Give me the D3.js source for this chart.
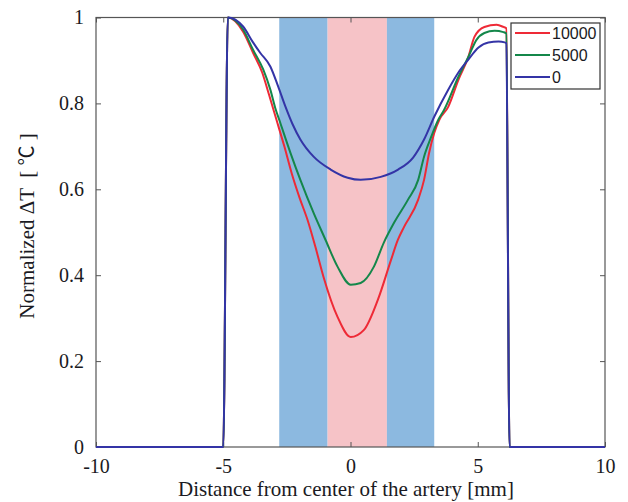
<!DOCTYPE html>
<html><head><meta charset="utf-8">
<script src="https://cdn.jsdelivr.net/npm/d3@7/dist/d3.min.js"></script>
<style>body{margin:0;background:#fff}svg{display:block}</style>
</head><body><svg id="c" width="628" height="502"></svg>
<script>
const xTicks = [-10, -5, 0, 5, 10];
const xTickLabels = ["-10", "-5", "0", "5", "10"];
const yTicks = [0, 0.2, 0.4, 0.6, 0.8, 1];
const yTickLabels = ["0", "0.2", "0.4", "0.6", "0.8", "1"];
const seriesNames = ["10000", "5000", "0"];
const seriesColors = ["#ee2a36", "#14874a", "#3434a6"];
const bandStart = [-2.8, -0.9, 1.43];
const bandEnd = [-0.9, 1.43, 3.29];
const bandColors = ["#8cb9e0", "#f6c3c7", "#8cb9e0"];

const xRed = [-10, -5.0, -4.82, -4.22, -3.83, -3.47, -3.2, -2.9, -2.6, -2.3, -2.0, -1.69, -1.38, -1.06, -0.51, 0.01, 0.52, 1.07, 1.59, 1.86, 2.10, 2.66, 2.89, 3.09, 3.29, 3.49, 3.84, 4.24, 4.63, 4.87, 5.26, 5.74, 6.01, 6.12, 6.25, 10];
const yRed = [0, 0, 1.0, 0.967, 0.918, 0.872, 0.82, 0.76, 0.70, 0.635, 0.58, 0.529, 0.466, 0.396, 0.303, 0.256, 0.272, 0.342, 0.435, 0.482, 0.512, 0.576, 0.622, 0.685, 0.731, 0.762, 0.792, 0.855, 0.908, 0.955, 0.978, 0.983, 0.978, 0.975, 0, 0];
const xGreen = [-10, -5.0, -4.82, -4.22, -3.83, -3.43, -3.15, -2.96, -2.76, -2.36, -1.97, -1.45, -0.98, -0.51, 0.01, 0.40, 0.92, 1.31, 1.71, 2.26, 2.66, 2.89, 3.17, 3.45, 3.68, 4.24, 4.63, 4.95, 5.26, 5.66, 6.01, 6.12, 6.25, 10];
const yGreen = [0, 0, 1.0, 0.972, 0.925, 0.879, 0.832, 0.79, 0.755, 0.685, 0.622, 0.545, 0.482, 0.420, 0.378, 0.382, 0.420, 0.476, 0.522, 0.576, 0.622, 0.676, 0.722, 0.762, 0.785, 0.862, 0.908, 0.948, 0.964, 0.969, 0.966, 0.963, 0, 0];
const xBlue = [-10, -5.0, -4.82, -4.22, -3.83, -3.55, -3.15, -2.84, -2.56, -2.28, -1.97, -1.45, -0.78, -0.11, 0.40, 1.19, 1.87, 2.46, 2.89, 3.29, 3.84, 4.24, 4.63, 5.03, 5.42, 5.82, 6.06, 6.12, 6.25, 10];
const yBlue = [0, 0, 1.0, 0.979, 0.942, 0.918, 0.886, 0.839, 0.793, 0.752, 0.716, 0.676, 0.646, 0.627, 0.622, 0.629, 0.646, 0.674, 0.716, 0.769, 0.832, 0.872, 0.902, 0.930, 0.942, 0.944, 0.942, 0.94, 0, 0];

const seriesX = [xRed, xGreen, xBlue];
const seriesY = [yRed, yGreen, yBlue];

const svg = d3.select("#c");
svg.append("rect").attr("width", 628).attr("height", 502).attr("fill", "#fff");

const L = 96, R = 605, T = 17.5, B = 447;
const x = d3.scaleLinear().domain([-10, 10]).range([L, R]);
const y = d3.scaleLinear().domain([0, 1]).range([B, T]);

// bands
svg.selectAll("rect.band").data(bandStart).enter().append("rect")
  .attr("class", "band")
  .attr("x", (d, i) => x(d))
  .attr("width", (d, i) => x(bandEnd[i]) - x(d))
  .attr("y", y(1)).attr("height", y(0) - y(1))
  .attr("fill", (d, i) => bandColors[i]);

const serif = "'Liberation Serif','Times New Roman',serif";
const txt = "#1a1a22";
const axisCol = "#555";

// axes
const gx = svg.append("g").attr("transform", `translate(0,${B})`)
  .call(d3.axisBottom(x).tickValues(xTicks).tickSizeInner(-5).tickSizeOuter(0).tickPadding(12).tickFormat((d, i) => xTickLabels[i]));
const gy = svg.append("g").attr("transform", `translate(${L},0)`)
  .call(d3.axisLeft(y).tickValues(yTicks).tickSizeInner(-5).tickSizeOuter(0).tickPadding(12).tickFormat((d, i) => yTickLabels[i]));
const gt = svg.append("g").attr("transform", `translate(0,${T})`)
  .call(d3.axisTop(x).tickValues(xTicks).tickSizeInner(-5).tickSizeOuter(0).tickFormat(""));
const gr = svg.append("g").attr("transform", `translate(${R},0)`)
  .call(d3.axisRight(y).tickValues(yTicks).tickSizeInner(-5).tickSizeOuter(0).tickFormat(""));
[gx, gy, gt, gr].forEach(g => {
  g.select(".domain").remove();
  g.selectAll("line").attr("stroke", axisCol);
  g.selectAll("text").attr("font-family", serif).attr("font-size", 20).attr("fill", txt);
});
svg.append("rect").attr("x", L).attr("y", T).attr("width", R - L).attr("height", B - T)
  .attr("fill", "none").attr("stroke", axisCol).attr("stroke-width", 1.2);

// curves
const line = d3.line().curve(d3.curveMonotoneX);
seriesX.forEach((xs, k) => {
  const pts = xs.map((v, i) => [x(v), y(seriesY[k][i])]);
  svg.append("path").attr("d", line(pts)).attr("fill", "none")
    .attr("stroke", seriesColors[k]).attr("stroke-width", 2).attr("stroke-linejoin", "round");
});

// labels
svg.append("text").attr("x", 346).attr("y", 496).attr("text-anchor", "middle")
  .attr("font-family", serif).attr("font-size", 21).attr("fill", txt)
  .text("Distance from center of the artery [mm]");
const yl = svg.append("text").attr("transform", "translate(34,226) rotate(-90)").attr("text-anchor", "middle")
  .attr("font-family", serif).attr("font-size", 21).attr("fill", txt)
  .style("white-space", "pre");
yl.append("tspan").text("Normalized ΔT  [ ");
yl.append("tspan").attr("font-family", "'Noto Sans CJK SC','Noto Sans CJK JP',sans-serif").attr("font-size", 20).text("℃");
yl.append("tspan").text(" ]");

// legend
const lg = svg.append("g");
lg.append("rect").attr("x", 511).attr("y", 23).attr("width", 89).attr("height", 66)
  .attr("fill", "#fff").attr("stroke", "#333").attr("stroke-width", 1.2);
seriesNames.forEach((n, i) => {
  const yy = 33 + i * 22;
  lg.append("line").attr("x1", 515).attr("x2", 550).attr("y1", yy).attr("y2", yy)
    .attr("stroke", seriesColors[i]).attr("stroke-width", 2);
  lg.append("text").attr("x", 552).attr("y", yy).attr("dy", "0.35em")
    .attr("font-family", "'Liberation Sans',Arial,sans-serif").attr("font-size", 16).attr("fill", txt)
    .text(n);
});
</script></body></html>
